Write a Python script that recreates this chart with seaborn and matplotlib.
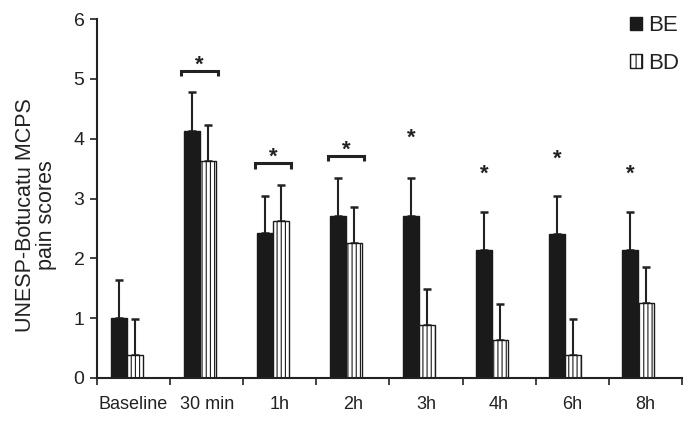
import matplotlib
matplotlib.use("Agg")
import matplotlib.pyplot as plt
import seaborn as sns
import pandas as pd
import numpy as np
from matplotlib.patches import Patch

categories = ["Baseline", "30 min", "1h", "2h", "3h", "4h", "6h", "8h"]
be_mean = [1.0, 4.13, 2.42, 2.71, 2.71, 2.14, 2.41, 2.14]
be_sd = [0.63, 0.65, 0.63, 0.64, 0.64, 0.64, 0.64, 0.64]
bd_mean = [0.38, 3.63, 2.63, 2.26, 0.88, 0.64, 0.38, 1.25]
bd_sd = [0.61, 0.60, 0.60, 0.60, 0.60, 0.59, 0.61, 0.61]
groups = ["BE", "BD"]
# bracketed comparisons (category index, height) and single stars (index, star centre height)
bracket_idx = [1, 2, 3]
bracket_y = [5.13, 3.59, 3.71]
star_idx = [4, 5, 6, 7]
star_y = [4.06, 3.47, 3.71, 3.47]

sns.set_style("white")
plt.rcParams["font.family"] = ["Liberation Sans", "DejaVu Sans"]
plt.rcParams["hatch.linewidth"] = 0.8

df = pd.DataFrame({
    "time": categories * 2,
    "group": ["BE"] * len(categories) + ["BD"] * len(categories),
    "score": be_mean + bd_mean,
})

fig = plt.figure(figsize=(6.95, 4.23), dpi=100)
ax = fig.add_axes([0.1396, 0.1064, 0.981 - 0.1396, 0.955 - 0.1064])

sns.barplot(data=df, x="time", y="score", hue="group", order=categories,
            hue_order=groups, palette={"BE": "#1a1a1a", "BD": "white"},
            width=0.44, edgecolor="#1a1a1a", linewidth=1.0, errorbar=None,
            ax=ax, legend=False, zorder=2)

shift = -0.095
n = len(categories)
bars = list(ax.patches)[: 2 * n]
for p in bars:
    p.set_x(p.get_x() + shift)
for p in bars[n:]:
    p.set_hatch("||||")

be_x = [p.get_x() + p.get_width() / 2 for p in bars[:n]]
bd_x = [p.get_x() + p.get_width() / 2 for p in bars[n:]]
for xs, m, sd in [(be_x, be_mean, be_sd), (bd_x, bd_mean, bd_sd)]:
    ax.errorbar(xs, m, yerr=[np.zeros(n), sd], fmt="none", ecolor="#222222",
                elinewidth=1.5, capsize=3.0, capthick=1.8, zorder=1)

star_off = 0.15  # asterisk glyph centre above its baseline, in data units
for i, y in zip(bracket_idx, bracket_y):
    x0 = be_x[i] - 0.14
    x1 = bd_x[i] + 0.14
    ax.plot([x0, x0, x1, x1], [y - 0.09, y, y, y - 0.09], color="#222222",
            lw=2.2, solid_capstyle="butt", solid_joinstyle="miter")
    ax.text((x0 + x1) / 2, y + 0.15 - star_off, "*", ha="center", va="baseline",
            fontsize=16, fontweight="bold", color="#222222")
for i, y in zip(star_idx, star_y):
    ax.text(be_x[i], y - star_off, "*", ha="center", va="baseline", fontsize=16,
            fontweight="bold", color="#222222")

ax.set_xlim(-0.5, n - 0.5)
ax.set_ylim(0, 6)
ax.set_yticks(range(0, 7))
ax.tick_params(axis="y", direction="out", length=5, width=1.2, left=True,
               labelsize=14, pad=4, colors="#222222")
ax.set_xticks(range(n))
ax.set_xticklabels(categories)
ax.tick_params(axis="x", which="major", length=0, labelsize=13, pad=13,
               colors="#222222")
ax.set_xticks(np.arange(-0.5, n, 1.0), minor=True)
ax.tick_params(axis="x", which="minor", direction="out", length=5, width=1.2,
               bottom=True, colors="#222222")

for s in ["top", "right"]:
    ax.spines[s].set_visible(False)
for s in ["left", "bottom"]:
    ax.spines[s].set_color("#222222")
    ax.spines[s].set_linewidth(1.5)

ax.set_xlabel("")
ax.set_ylabel("UNESP-Botucatu MCPS\npain scores", fontsize=15.5, color="#222222",
              linespacing=1.0)
ax.yaxis.set_label_coords(-0.069, 0.455)

handles = [Patch(facecolor="#1a1a1a", edgecolor="#1a1a1a", label="BE"),
           Patch(facecolor="white", edgecolor="#1a1a1a", hatch="|||", label="BD")]
fig.legend(handles=handles, loc="upper left", bbox_to_anchor=(0.893, 0.985),
           frameon=False, fontsize=16, handlelength=0.55, handleheight=0.55,
           handletextpad=0.3, labelspacing=0.75, borderaxespad=0.0,
           labelcolor="#222222")

fig.savefig("out.png", dpi=100)
